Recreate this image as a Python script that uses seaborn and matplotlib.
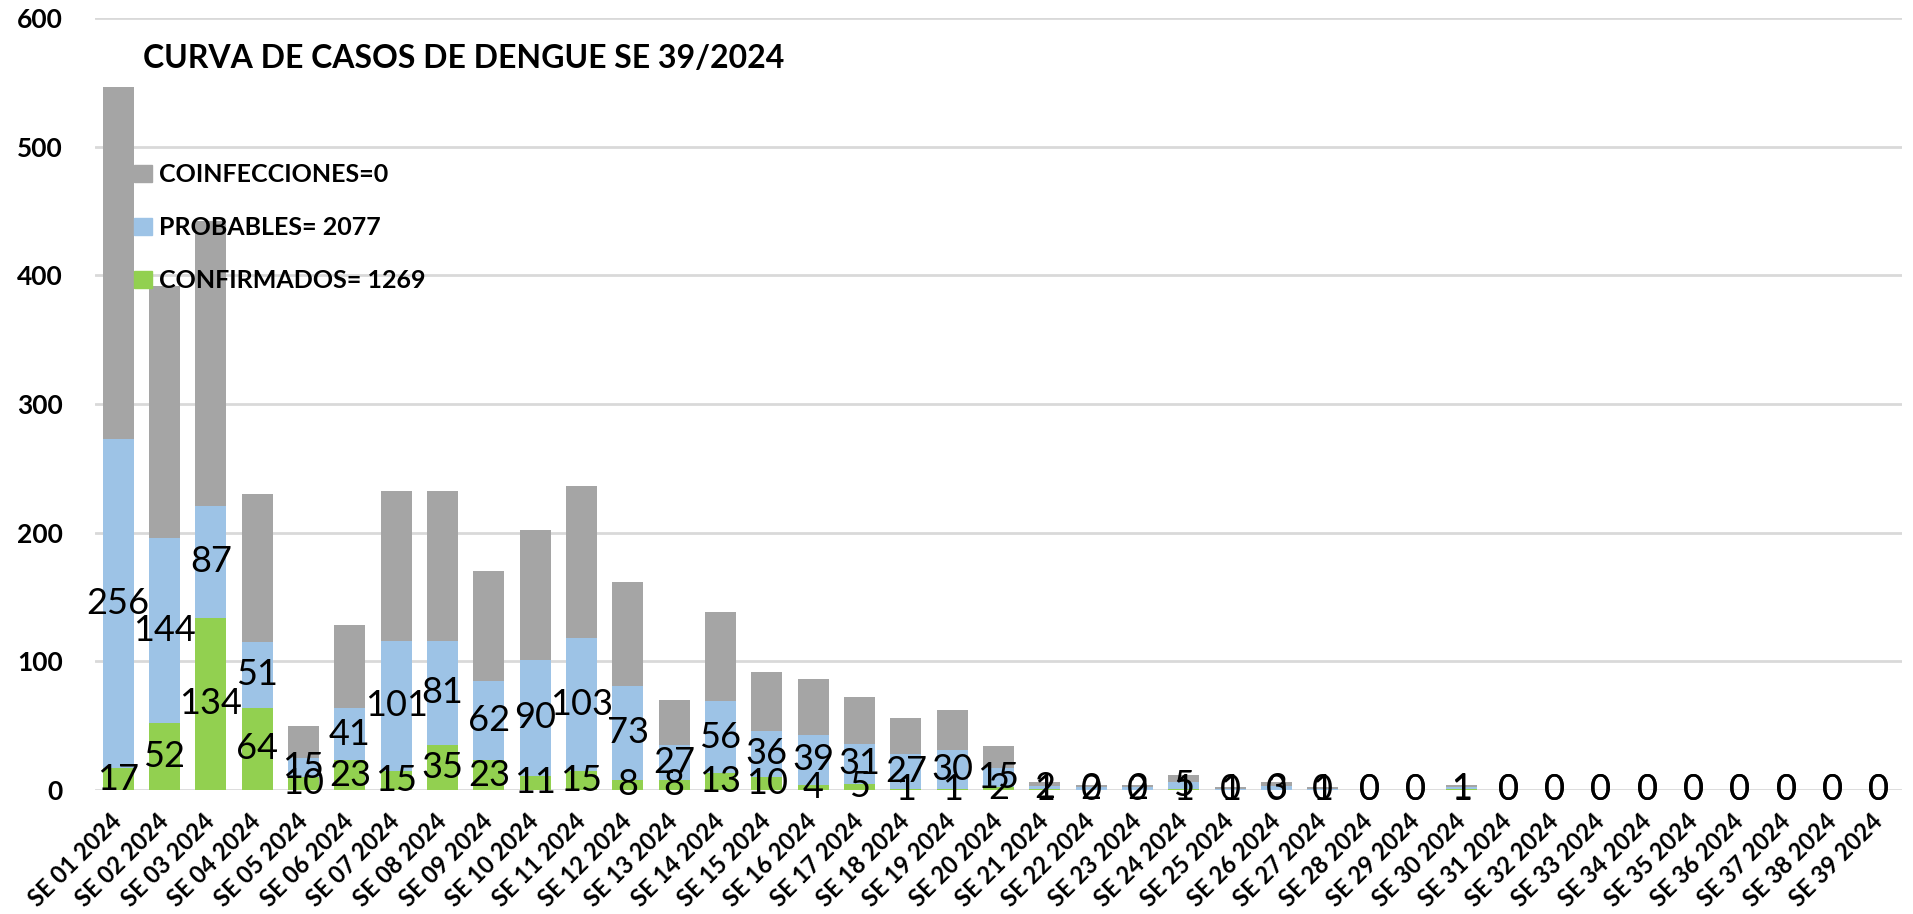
import matplotlib
matplotlib.use("Agg")
import matplotlib.pyplot as plt
import matplotlib.patches as mpatches
import seaborn as sns
import pandas as pd

# ---------------- data ----------------
weeks = [f"SE {i:02d} 2024" for i in range(1, 40)]
confirmados = [17, 52, 134, 64, 10, 23, 15, 35, 23, 11, 15, 8, 8, 13, 10, 4, 5, 1, 1, 2,
               1, 0, 0, 1, 0, 0, 0, 0, 0, 1, 0, 0, 0, 0, 0, 0, 0, 0, 0]
probables = [256, 144, 87, 51, 15, 41, 101, 81, 62, 90, 103, 73, 27, 56, 36, 39, 31, 27, 30, 15,
             2, 2, 2, 5, 1, 3, 1, 0, 0, 1, 0, 0, 0, 0, 0, 0, 0, 0, 0]
# grey segment (series stacked on top, as drawn in the picture)
gris = [273, 196, 221, 115, 25, 64, 116, 116, 85, 101, 118, 81, 35, 69, 46, 43, 36, 28, 31, 17,
        3, 2, 2, 6, 1, 3, 1, 0, 0, 2, 0, 0, 0, 0, 0, 0, 0, 0, 0]
legend_labels = ["COINFECCIONES=0", "PROBABLES= 2077", "CONFIRMADOS= 1269"]
title = "CURVA DE CASOS DE DENGUE SE 39/2024"
yticks = [0, 100, 200, 300, 400, 500, 600]

C_GREEN = "#92D050"
C_BLUE = "#9DC3E6"
C_GRAY = "#A5A5A5"

FONT = ["Lato", "DejaVu Sans"]

sns.set_theme(style="white")
plt.rcParams["font.family"] = FONT

df = pd.DataFrame({"week": weeks, "conf": confirmados, "prob": probables, "gris": gris})
df["top_blue"] = df["conf"] + df["prob"]
df["top_gray"] = df["top_blue"] + df["gris"]

W, H = 1913, 914
fig = plt.figure(figsize=(W / 100, H / 100), dpi=100)
ax = fig.add_axes([95 / W, 124 / H, (1902 - 95) / W, (790 - 18) / H])

BW = 0.67
sns.barplot(data=df, x="week", y="top_gray", color=C_GRAY, saturation=1, width=BW, ax=ax, linewidth=0)
sns.barplot(data=df, x="week", y="top_blue", color=C_BLUE, saturation=1, width=BW, ax=ax, linewidth=0)
sns.barplot(data=df, x="week", y="conf", color=C_GREEN, saturation=1, width=BW, ax=ax, linewidth=0)

# data labels (centered in each segment)
LBL = 26
for i, (c, p) in enumerate(zip(confirmados, probables)):
    ax.text(i, c / 2, str(c), ha="center", va="center", fontsize=LBL, color="black", zorder=5)
    ax.text(i, c + p / 2, str(p), ha="center", va="center", fontsize=LBL, color="black", zorder=5)

ax.set_ylim(0, 600)
ax.set_xlim(-0.5, len(weeks) - 0.5)
ax.set_yticks(yticks)
ax.set_yticklabels([str(t) for t in yticks], fontsize=19, fontweight="bold", color="black")
ax.yaxis.grid(True, color="#D9D9D9", linewidth=2)
ax.set_axisbelow(True)
ax.tick_params(axis="y", length=0, pad=23)
ax.tick_params(axis="x", length=0, pad=20)
ax.set_xlabel("")
ax.set_ylabel("")
for s in ax.spines.values():
    s.set_visible(False)

for lab in ax.get_xticklabels():
    lab.set_rotation(45)
    lab.set_ha("right")
    lab.set_va("center")
    lab.set_rotation_mode("anchor")
    lab.set_fontsize(17)
    lab.set_fontweight("bold")
    lab.set_color("black")

handles = [mpatches.Patch(color=C_GRAY), mpatches.Patch(color=C_BLUE), mpatches.Patch(color=C_GREEN)]
leg = ax.legend(handles, legend_labels, loc="upper left", bbox_to_anchor=(0.0217, 0.812),
                frameon=False, labelspacing=1.2, handlelength=0.7,
                handleheight=0.7, handletextpad=0.3, borderpad=0, borderaxespad=0,
                prop={"weight": "bold", "size": 18, "family": FONT})
for t in leg.get_texts():
    t.set_color("black")

fig.text(143 / W, 1 - 59 / H, title, fontsize=23, fontweight="bold", ha="left", va="center",
         color="black")

fig.savefig("out.png", dpi=100)
